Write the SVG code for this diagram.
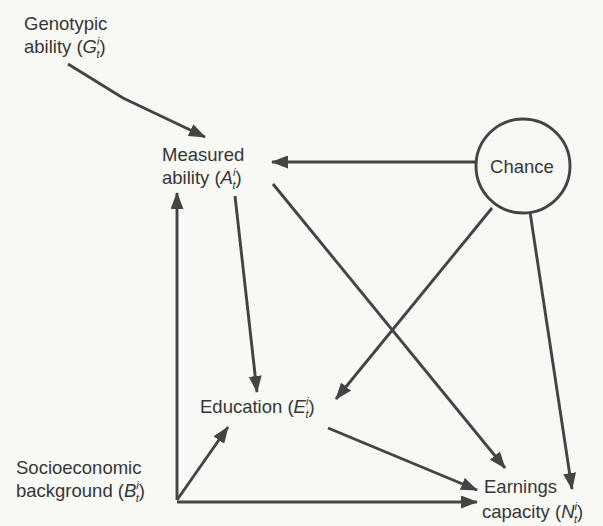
<svg xmlns="http://www.w3.org/2000/svg" width="603" height="526" viewBox="0 0 603 526">
<style>
text{font-family:"Liberation Sans",Arial,sans-serif;font-size:18.5px;fill:#363636}
.it{font-style:italic}
.sc{font-size:11px;font-style:italic}
.ln{stroke:#444;stroke-width:2.9;fill:none;marker-end:url(#ah)}
</style>
<defs>
<marker id="ah" markerUnits="userSpaceOnUse" markerWidth="17" markerHeight="13" viewBox="0 0 17 13" refX="16" refY="6.5" orient="auto">
<path d="M0,0 L17,6.5 L0,13 Z" fill="#444"/>
</marker>
</defs>
<rect width="603" height="526" fill="#f8f8f4"/>
<g id="connectors">
<path class="ln" d="M68,64 L123,98 L205,137"/>
<path class="ln" d="M476,162 L272,162"/>
<path class="ln" d="M177,500 L177,193"/>
<path class="ln" d="M235,196 L257,392"/>
<path class="ln" d="M273,184 L505,468"/>
<path class="ln" d="M492,208 L336,399"/>
<path class="ln" d="M530,212 L572,489"/>
<path class="ln" d="M328,428 L477,490"/>
<path class="ln" d="M177,500 L228,427"/>
<path class="ln" d="M177,502 L477,502"/>
</g>
<g id="genotypic">
<text x="24" y="30">Genotypic</text>
<text x="24" y="53">ability (<tspan class="it">G</tspan><tspan class="sc" dy="-8">i</tspan><tspan class="sc" dx="-3" dy="13">t</tspan><tspan dy="-5">)</tspan></text>
</g>
<g id="measured">
<text x="162" y="161">Measured</text>
<text x="162" y="184">ability (<tspan class="it">A</tspan><tspan class="sc" dy="-8">i</tspan><tspan class="sc" dx="-3" dy="13">t</tspan><tspan dy="-5">)</tspan></text>
</g>
<g id="chance">
<circle cx="523" cy="166" r="47" fill="#f8f8f4" stroke="#444" stroke-width="2.9"/>
<text x="522" y="173" text-anchor="middle">Chance</text>
</g>
<g id="education">
<text x="200" y="413">Education (<tspan class="it">E</tspan><tspan class="sc" dy="-8">i</tspan><tspan class="sc" dx="-3" dy="13">t</tspan><tspan dy="-5">)</tspan></text>
</g>
<g id="socioeconomic">
<text x="16" y="474">Socioeconomic</text>
<text x="16" y="497">background (<tspan class="it">B</tspan><tspan class="sc" dy="-8">i</tspan><tspan class="sc" dx="-3" dy="13">t</tspan><tspan dy="-5">)</tspan></text>
</g>
<g id="earnings">
<text x="484" y="493">Earnings</text>
<text x="482" y="518">capacity (<tspan class="it">N</tspan><tspan class="sc" dy="-8">i</tspan><tspan class="sc" dx="-3" dy="13">t</tspan><tspan dy="-5">)</tspan></text>
</g>
</svg>
